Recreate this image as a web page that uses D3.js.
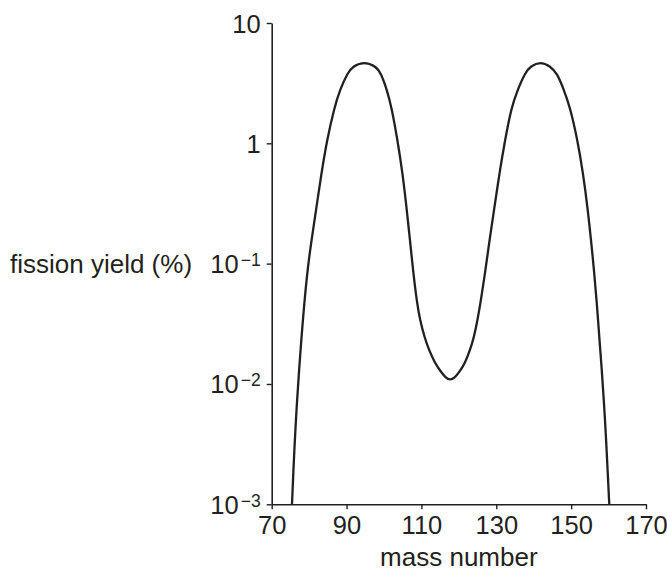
<!DOCTYPE html>
<html>
<head>
<meta charset="utf-8">
<script src="https://cdn.jsdelivr.net/npm/d3@7"></script>
<style>
  html, body { margin: 0; padding: 0; background: #fff; }
  svg { display: block; }
  text { font-family: "Liberation Sans", Arial, Helvetica, sans-serif; fill: #231f20; }
</style>
</head>
<body>
<svg id="chart" width="667" height="573"></svg>
<script>
const massNumber = [75.42, 75.80, 76.22, 76.73, 77.32, 77.96, 78.71, 79.56, 80.63, 81.97, 83.30, 84.77, 86.78, 88.19, 90.25, 91.72, 94.74, 97.73, 99.20, 100.80, 102.01, 103.61, 104.95, 106.01, 106.95, 107.75, 108.82, 109.62, 110.82, 112.03, 113.63, 115.23, 116.57, 117.64, 118.84, 120.17, 121.64, 122.98, 124.05, 124.98, 125.78, 127.12, 128.19, 129.52, 130.86, 132.33, 134.07, 135.67, 137.67, 139.14, 141.87, 144.35, 146.22, 148.09, 149.70, 151.70, 153.17, 154.37, 155.31, 156.11, 156.86, 157.52, 158.19, 158.78, 159.31, 159.74, 160.19];
const fissionYield = [0.001, 0.00193, 0.00362, 0.00695, 0.0131, 0.0245, 0.0471, 0.0885, 0.157, 0.296, 0.566, 1.066, 2.00, 2.77, 3.84, 4.39, 4.77, 4.39, 3.84, 2.77, 2.00, 1.066, 0.566, 0.296, 0.157, 0.0885, 0.0471, 0.0340, 0.0245, 0.0191, 0.0149, 0.0126, 0.0112, 0.0108, 0.0112, 0.0126, 0.0149, 0.0191, 0.0245, 0.0340, 0.0471, 0.0885, 0.157, 0.296, 0.566, 1.066, 2.00, 2.77, 3.84, 4.39, 4.77, 4.39, 3.84, 2.77, 2.00, 1.066, 0.566, 0.296, 0.157, 0.0885, 0.0471, 0.0245, 0.0131, 0.00695, 0.00362, 0.00193, 0.001];
const xTicks = [70, 90, 110, 130, 150, 170];
const yTicks = [0.001, 0.01, 0.1, 1, 10];
const yTickBase = ["10", "10", "10", "1", "10"];
const yTickExp = ["\u22123", "\u22122", "\u22121", "", ""];
const xTitle = "mass number";
const yTitle = "fission yield (%)";

const svg = d3.select("#chart");
const ink = "#231f20";

const x = d3.scaleLinear().domain([70, 170]).range([271.7, 646]);
const y = d3.scaleLog().domain([0.001, 10]).range([504.3, 23]);

// x axis
const gx = svg.append("g").attr("transform", `translate(0,${y(0.001)})`)
  .call(d3.axisBottom(x).tickValues(xTicks).tickSize(5).tickSizeOuter(0).tickFormat(d3.format("d")));
gx.select(".domain").attr("stroke", ink).attr("stroke-width", 1.6);
gx.selectAll(".tick line").attr("stroke", ink).attr("stroke-width", 1.4);
gx.selectAll(".tick text").attr("font-size", 25.5).attr("fill", ink)
  .attr("font-family", "Liberation Sans, Arial, sans-serif").attr("dy", null).attr("y", 29.5);

// y axis
const gy = svg.append("g").attr("transform", `translate(${x(70)},0)`)
  .call(d3.axisLeft(y).tickValues(yTicks).tickSize(5).tickSizeOuter(0).tickFormat(() => ""));
gy.select(".domain").attr("stroke", ink).attr("stroke-width", 1.6);
gy.selectAll(".tick line").attr("stroke", ink).attr("stroke-width", 1.4);
gy.selectAll(".tick text").each(function(d, i) {
  const t = d3.select(this);
  t.text(null).attr("x", -11).attr("dy", null).attr("y", 9)
    .attr("text-anchor", "end").attr("font-size", 25.5).attr("fill", ink)
    .attr("font-family", "Liberation Sans, Arial, sans-serif");
  t.append("tspan").text(yTickBase[i]);
  if (yTickExp[i]) {
    t.append("tspan").attr("font-size", 17.5).attr("dx", 2).attr("dy", -7).text(yTickExp[i]);
  }
});

// curve
const data = massNumber.map((m, i) => ({ m, v: fissionYield[i] }));
const line = d3.line().x(d => x(d.m)).y(d => y(d.v)).curve(d3.curveBasis);
svg.append("path").datum(data).attr("d", line)
  .attr("fill", "none").attr("stroke", ink).attr("stroke-width", 2.3).attr("stroke-linejoin", "round");

// titles
svg.append("text").attr("x", (x(70) + x(170)) / 2).attr("y", 566)
  .attr("text-anchor", "middle").attr("font-size", 26).text(xTitle);
svg.append("text").attr("x", 10).attr("y", y(0.1) + 9)
  .attr("text-anchor", "start").attr("font-size", 26).text(yTitle);
</script>
</body>
</html>
